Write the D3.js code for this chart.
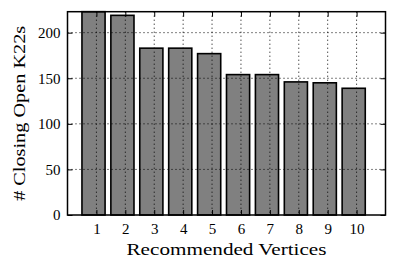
<!DOCTYPE html>
<html><head><meta charset="utf-8">
<script src="https://cdn.jsdelivr.net/npm/d3@7"></script>
<style>body{margin:0;background:#fff}svg{display:block}</style>
</head><body><svg id="c" width="398" height="272"></svg>
<script>
const categories = [1,2,3,4,5,6,7,8,9,10];
const values = [223,219,183,183,177,154,154,146,145,139];
const yTicks = [0,50,100,150,200];
const xLabel = "Recommended Vertices";
const yLabel = "# Closing Open K22s";

const FONT = "'Liberation Serif','Times New Roman',serif";
const W=398,H=272;
const m={left:67.5,right:12.5,top:11.7,bottom:57};
const iw=W-m.left-m.right, ih=H-m.top-m.bottom;
const svg=d3.select("#c");
const g=svg.append("g").attr("transform",`translate(${m.left},${m.top})`);
const x=d3.scaleLinear().domain([0.5,11.5]).range([0,iw]);
const y=d3.scaleLinear().domain([0,223]).range([ih,0]);

g.selectAll("rect.bar").data(categories).join("rect")
 .attr("class","bar")
 .attr("x",(d)=>x(d))
 .attr("width",x(1.3)-x(0.5))
 .attr("y",(d,i)=>y(values[i]))
 .attr("height",(d,i)=>y(0)-y(values[i]))
 .attr("fill","#808080").attr("stroke","#000").attr("stroke-width",1.6);

g.selectAll("line.gx").data(categories).join("line")
 .attr("x1",d=>x(d+0.5)).attr("x2",d=>x(d+0.5)).attr("y1",0).attr("y2",ih)
 .attr("stroke","#000").attr("stroke-width",1).attr("stroke-dasharray","1,3");
g.selectAll("line.gy").data(yTicks.filter(v=>v>0)).join("line")
 .attr("y1",d=>y(d)).attr("y2",d=>y(d)).attr("x1",0).attr("x2",iw)
 .attr("stroke","#000").attr("stroke-width",1).attr("stroke-dasharray","1,3");

const xa=d3.axisBottom(x).tickValues(categories.map(d=>d+0.5)).tickFormat((d,i)=>categories[i]).tickSizeInner(-5).tickSizeOuter(0).tickPadding(8);
const xt=d3.axisTop(x).tickValues(categories.map(d=>d+0.5)).tickFormat("").tickSizeInner(-5).tickSizeOuter(0);
const ya=d3.axisLeft(y).tickValues(yTicks).tickSizeInner(-5).tickSizeOuter(0).tickPadding(7);
const yr=d3.axisRight(y).tickValues(yTicks).tickFormat("").tickSizeInner(-5).tickSizeOuter(0);
function style(sel){sel.attr("font-family",null).attr("font-size",null);sel.select(".domain").remove();sel.selectAll("line").attr("stroke","#000").attr("stroke-width",1);sel.selectAll("text").style("font-size","15px").style("font-family",FONT);}
g.append("g").attr("transform",`translate(0,${ih})`).call(xa).call(style);
g.append("g").call(xt).call(style);
g.append("g").call(ya).call(style);
g.append("g").attr("transform",`translate(${iw},0)`).call(yr).call(style);

g.append("rect").attr("width",iw).attr("height",ih).attr("fill","none").attr("stroke","#000").attr("stroke-width",1.5);

svg.append("text").attr("x",m.left+iw/2).attr("y",255).attr("text-anchor","middle")
 .style("font-size","16.5px").style("font-family",FONT)
 .attr("textLength",200).attr("lengthAdjust","spacingAndGlyphs").text(xLabel);
svg.append("text").attr("transform",`translate(25,${m.top+ih/2}) rotate(-90)`).attr("text-anchor","middle")
 .style("font-size","16.5px").style("font-family",FONT)
 .attr("textLength",175).attr("lengthAdjust","spacingAndGlyphs").text(yLabel);
</script></body></html>
